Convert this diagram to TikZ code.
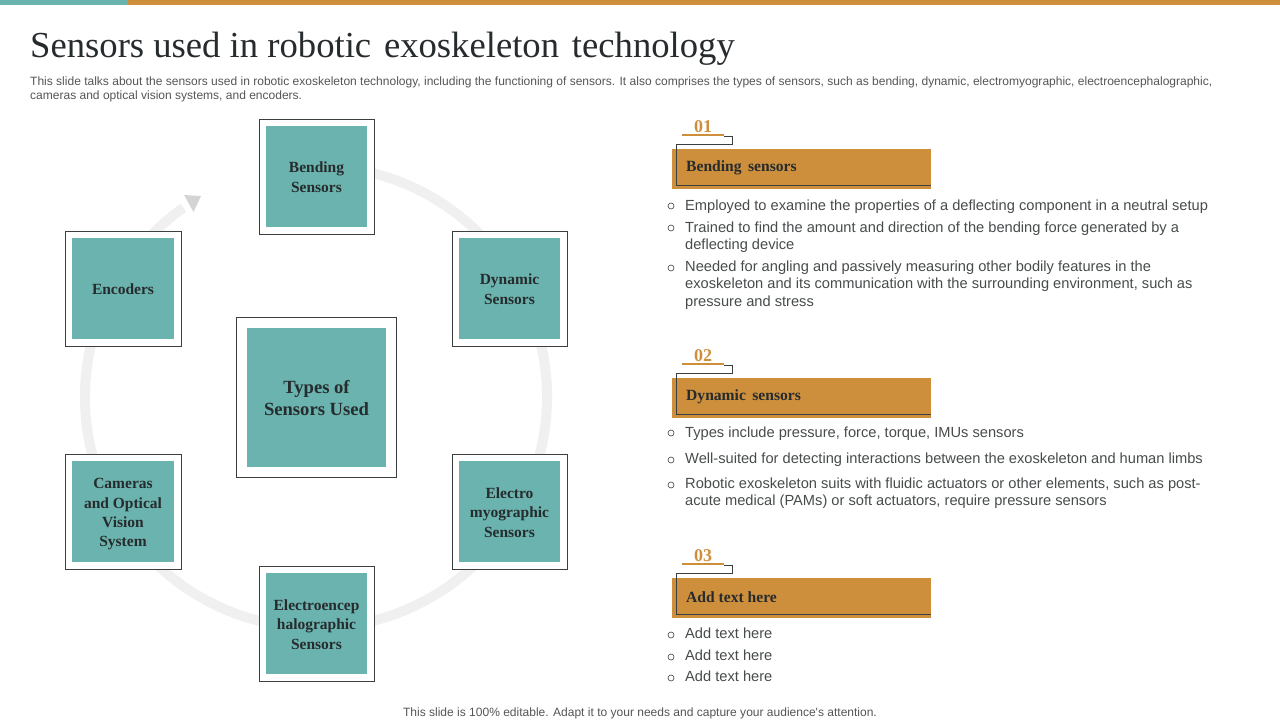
\documentclass[tikz,border=0pt]{standalone}
\usepackage{fontspec}
\setmainfont{Liberation Serif}
\newfontfamily\bodyfont{Liberation Sans}
\usetikzlibrary{arrows.meta}
\definecolor{tealfill}{HTML}{6BB3AE}
\definecolor{orangefill}{HTML}{CE8F3D}
\definecolor{darkline}{HTML}{3A3F42}
\definecolor{darktext}{HTML}{262B2D}
\definecolor{greytext}{HTML}{555555}
\tikzset{
  outerbox/.style={draw=darkline,line width=0.9pt,fill=white,minimum size=115.5pt,inner sep=0pt},
  innerbox/.style={fill=tealfill,minimum size=101.5pt,inner sep=0pt,align=center,text=darktext,font=\fontsize{15.5}{19.4}\selectfont\bfseries},
  headbar/.style={fill=orangefill,minimum width=259pt,minimum height=40pt,inner sep=0pt},
  headtext/.style={anchor=west,inner sep=0pt,text=darktext,font=\fontsize{15.6}{18}\selectfont\bfseries},
  numtext/.style={inner sep=0pt,text=orangefill,font=\fontsize{18}{20}\selectfont\bfseries},
  bodytext/.style={anchor=north west,inner sep=0pt,align=left,text=darktext!85,font=\bodyfont\fontsize{14.65}{17.6}\selectfont},
  bulletmark/.style={circle,draw=darkline,line width=0.6pt,minimum size=6pt,inner sep=0pt},
  smalltext/.style={anchor=north west,inner sep=0pt,align=left,text=greytext,font=\bodyfont\fontsize{12.02}{14}\selectfont},
}
\begin{document}
\begin{tikzpicture}[x=1pt,y=-1pt]
\useasboundingbox (0,0) rectangle (1280,720);
% top band
\fill[tealfill] (0,0) rectangle (128,5);
\fill[orangefill] (128,0) rectangle (1280,5);
% heading
\node[anchor=west,inner sep=0pt,text=darktext,font=\fontsize{36.65}{40}\selectfont] (title) at (30,48.5) {Sensors used in robotic\hspace{0.1em} exoskeleton\hspace{0.1em} technology};
\node[smalltext] (intro) at (30,76.5) {This slide talks about the sensors used in robotic exoskeleton technology, including the functioning of sensors. It also comprises the types of sensors, such as bending, dynamic, electromyographic, electroencephalographic,\\cameras and optical vision systems, and encoders.};
% ring
\draw[line width=10pt,draw=black!6] (316,397)+(-78:231) arc[start angle=-78,end angle=235,radius=231];
\fill[black!17] (184,195) -- (201,196) -- (193.5,212) -- cycle;
% left boxes
\foreach \nm/\px/\py/\txt in {bending/317/177/{Bending\\Sensors},dynamic/510/289/{Dynamic\\Sensors},encoders/123.5/289/{Encoders},cameras/123.5/512/{\rule{0pt}{16pt}Cameras\\and Optical\\Vision\\System},electro/510/512/{Electro\\myographic\\Sensors},electroen/317/624/{Electroencep\\halographic\\Sensors}}{
  \node[outerbox] (\nm box) at (\px,\py) {};
  \node[innerbox] (\nm) at (\px-0.5,\py-0.5) {\rule{0pt}{12.5pt}\txt};
}
\node[outerbox,minimum size=160.5pt] (typesbox) at (316.5,397.5) {};
\node[innerbox,minimum size=139pt,font=\fontsize{18.6}{22}\selectfont\bfseries] (types) at (typesbox) {\rule{0pt}{14pt}Types of\\Sensors Used};
% right headings
\foreach \nm/\py/\num/\txt in {one/169/01/{Bending\hspace{0.16em} sensors},two/398/02/{Dynamic\hspace{0.16em} sensors},three/598/03/{Add text here}}{
  \node[headbar,anchor=west] (\nm bar) at (672,\py) {};
  \node[headtext] (\nm head) at (686,\py-1.3) {\txt};
  \node[numtext] (\nm num) at (703,\py-42.5) {\num};
  \draw[orangefill,line width=1.6pt] (682,\py-34) -- (724,\py-34);
  \draw[darkline,line width=0.9pt] (724,\py-33) -- (732,\py-33) -- (732,\py-25) -- (676,\py-25) -- (676,\py+16) -- (931,\py+16);
}
% bullet lists
\foreach \nm/\py in {a/206,b/228,c/268,d/433,e/460,f/485,g/635,h/657,i/678}{
  \node[bulletmark] (mark\nm) at (671,\py) {};
}
\node[bodytext] (texta) at (685,199.5) {Employed to examine the properties of a deflecting component in a neutral setup};
\node[bodytext] (textb) at (685,221.5) {Trained to find the amount and direction of the bending force generated by a\\deflecting device};
\node[bodytext] (textc) at (685,260.5) {Needed for angling and passively measuring other bodily features in the\\exoskeleton and its communication with the surrounding environment, such as\\pressure and stress};
\node[bodytext] (textd) at (685,426.5) {Types include pressure, force, torque, IMUs sensors};
\node[bodytext] (texte) at (685,452.5) {Well-suited for detecting interactions between the exoskeleton and human limbs};
\node[bodytext] (textf) at (685,477.5) {Robotic exoskeleton suits with fluidic actuators or other elements, such as post-\\acute medical (PAMs) or soft actuators, require pressure sensors};
\node[bodytext] (textg) at (685,627.5) {Add text here};
\node[bodytext] (texth) at (685,649.5) {Add text here};
\node[bodytext] (texti) at (685,670.5) {Add text here};
% footer
\node[smalltext,anchor=center] (footer) at (640,713) {This slide is 100\% editable. Adapt it to your needs and capture your audience's attention.};
\end{tikzpicture}
\end{document}
